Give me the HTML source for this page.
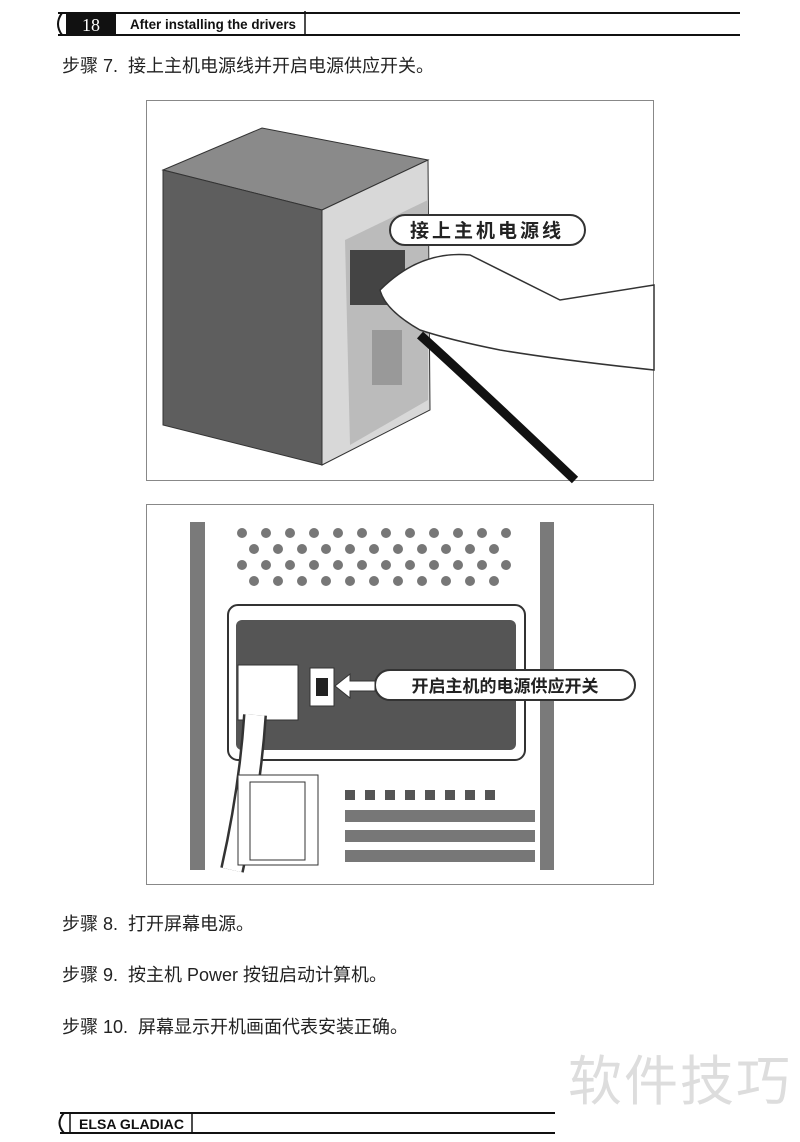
<!DOCTYPE html>
<html><head><meta charset="utf-8"><style>
body{margin:0;width:800px;height:1142px;background:#fff;position:relative;overflow:hidden;font-family:"Liberation Sans","Noto Sans CJK SC",sans-serif;}
.t{position:absolute;left:62px;font-size:18px;color:#222;white-space:nowrap}
</style></head><body>
<svg width="800" height="1142" style="position:absolute;left:0;top:0">
<line x1="58" y1="13" x2="740" y2="13" stroke="#111" stroke-width="2"/>
<line x1="58" y1="35" x2="740" y2="35" stroke="#111" stroke-width="2"/>
<path d="M62 13 Q54 24 62 35" fill="none" stroke="#111" stroke-width="2"/>
<rect x="66" y="13" width="50" height="22" fill="#111"/>
<line x1="305" y1="11" x2="305" y2="35" stroke="#111" stroke-width="1.5"/>
<text x="91" y="31" fill="#fff" font-family="Liberation Serif" font-size="18" text-anchor="middle">18</text>
<text x="130" y="29" fill="#111" font-family="Liberation Sans" font-weight="bold" font-size="14" textLength="166" lengthAdjust="spacingAndGlyphs">After installing the drivers</text>
<line x1="60" y1="1113" x2="555" y2="1113" stroke="#111" stroke-width="2"/>
<line x1="60" y1="1133" x2="555" y2="1133" stroke="#111" stroke-width="2"/>
<path d="M64 1113 Q55 1123 64 1133" fill="none" stroke="#111" stroke-width="2"/>
<line x1="70" y1="1113" x2="70" y2="1133" stroke="#111" stroke-width="1.5"/>
<line x1="192" y1="1113" x2="192" y2="1133" stroke="#111" stroke-width="1.5"/>
<text x="79" y="1129" fill="#111" font-family="Liberation Sans" font-weight="bold" font-size="14" textLength="105" lengthAdjust="spacingAndGlyphs">ELSA GLADIAC</text>
<rect x="146.5" y="100.5" width="507" height="380" fill="#fff" stroke="#888"/>
<polygon points="163,170 262,128 428,160 322,210" fill="#8a8a8a" stroke="#333"/>
<polygon points="163,170 322,210 322,465 163,425" fill="#5e5e5e" stroke="#333"/>
<polygon points="322,210 428,160 430,410 322,465" fill="#d8d8d8" stroke="#333"/>
<polygon points="345,240 428,200 428,400 350,445" fill="#bbb"/>
<rect x="372" y="330" width="30" height="55" fill="#999"/>
<rect x="350" y="250" width="55" height="55" fill="#444"/>
<path d="M380 290 Q420 250 470 255 Q520 280 560 300 L654 285 L654 370 Q560 360 500 350 Q450 340 420 330 Q385 310 380 290Z" fill="#fff" stroke="#333" stroke-width="1.5"/>
<path d="M420 335 Q470 380 575 480" stroke="#111" stroke-width="9" fill="none"/>
<rect x="390" y="215" width="195" height="30" rx="15" fill="#fff" stroke="#333" stroke-width="2"/>
<text x="487" y="237" text-anchor="middle" font-size="19" font-weight="bold" fill="#222" font-family="Noto Sans CJK SC" letter-spacing="3">接上主机电源线</text>
<rect x="146.5" y="504.5" width="507" height="380" fill="#fff" stroke="#888"/>
<rect x="190" y="522" width="15" height="348" fill="#7a7a7a"/>
<rect x="540" y="522" width="14" height="348" fill="#7a7a7a"/>
<g fill="#777">
<circle cx="242" cy="533" r="5"/><circle cx="266" cy="533" r="5"/><circle cx="290" cy="533" r="5"/><circle cx="314" cy="533" r="5"/><circle cx="338" cy="533" r="5"/><circle cx="362" cy="533" r="5"/><circle cx="386" cy="533" r="5"/><circle cx="410" cy="533" r="5"/><circle cx="434" cy="533" r="5"/><circle cx="458" cy="533" r="5"/><circle cx="482" cy="533" r="5"/><circle cx="506" cy="533" r="5"/>
<circle cx="254" cy="549" r="5"/><circle cx="278" cy="549" r="5"/><circle cx="302" cy="549" r="5"/><circle cx="326" cy="549" r="5"/><circle cx="350" cy="549" r="5"/><circle cx="374" cy="549" r="5"/><circle cx="398" cy="549" r="5"/><circle cx="422" cy="549" r="5"/><circle cx="446" cy="549" r="5"/><circle cx="470" cy="549" r="5"/><circle cx="494" cy="549" r="5"/>
<circle cx="242" cy="565" r="5"/><circle cx="266" cy="565" r="5"/><circle cx="290" cy="565" r="5"/><circle cx="314" cy="565" r="5"/><circle cx="338" cy="565" r="5"/><circle cx="362" cy="565" r="5"/><circle cx="386" cy="565" r="5"/><circle cx="410" cy="565" r="5"/><circle cx="434" cy="565" r="5"/><circle cx="458" cy="565" r="5"/><circle cx="482" cy="565" r="5"/><circle cx="506" cy="565" r="5"/>
<circle cx="254" cy="581" r="5"/><circle cx="278" cy="581" r="5"/><circle cx="302" cy="581" r="5"/><circle cx="326" cy="581" r="5"/><circle cx="350" cy="581" r="5"/><circle cx="374" cy="581" r="5"/><circle cx="398" cy="581" r="5"/><circle cx="422" cy="581" r="5"/><circle cx="446" cy="581" r="5"/><circle cx="470" cy="581" r="5"/><circle cx="494" cy="581" r="5"/>
</g>
<rect x="228" y="605" width="297" height="155" rx="10" fill="#fff" stroke="#333" stroke-width="2"/>
<rect x="236" y="620" width="280" height="130" rx="6" fill="#555"/>
<rect x="238" y="665" width="60" height="55" fill="#fff" stroke="#333"/>
<rect x="310" y="668" width="24" height="38" fill="#fff" stroke="#333"/>
<rect x="316" y="678" width="12" height="18" fill="#222"/>
<path d="M255 715 Q250 790 232 870" stroke="#333" stroke-width="24" fill="none"/>
<path d="M255 715 Q250 790 232 870" stroke="#fff" stroke-width="19" fill="none"/>
<rect x="238" y="775" width="80" height="90" fill="#fff" stroke="#333"/>
<rect x="250" y="782" width="55" height="78" fill="#fff" stroke="#333"/>
<g fill="#555">
<rect x="345" y="790" width="10" height="10"/><rect x="365" y="790" width="10" height="10"/><rect x="385" y="790" width="10" height="10"/><rect x="405" y="790" width="10" height="10"/><rect x="425" y="790" width="10" height="10"/><rect x="445" y="790" width="10" height="10"/><rect x="465" y="790" width="10" height="10"/><rect x="485" y="790" width="10" height="10"/>
<rect x="345" y="810" width="190" height="12" opacity=".8"/>
<rect x="345" y="830" width="190" height="12" opacity=".8"/>
<rect x="345" y="850" width="190" height="12" opacity=".8"/>
</g>
<rect x="375" y="670" width="260" height="30" rx="15" fill="#fff" stroke="#333" stroke-width="2"/>
<polygon points="335,686 350,674 350,681 375,681 375,691 350,691 350,698" fill="#fff" stroke="#333"/>
<text x="505" y="692" text-anchor="middle" font-size="17" font-weight="bold" fill="#222" font-family="Noto Sans CJK SC">开启主机的电源供应开关</text>
<text x="568" y="1100" font-size="54" fill="#ddd" font-family="Noto Sans CJK SC" letter-spacing="2">软件技巧</text>
</svg>
<div class="t" style="top:52px">步骤 7.&nbsp; 接上主机电源线并开启电源供应开关。</div>
<div class="t" style="top:910px">步骤 8.&nbsp; 打开屏幕电源。</div>
<div class="t" style="top:961px">步骤 9.&nbsp; 按主机 Power 按钮启动计算机。</div>
<div class="t" style="top:1013px">步骤 10.&nbsp; 屏幕显示开机画面代表安装正确。</div>
</body></html>
